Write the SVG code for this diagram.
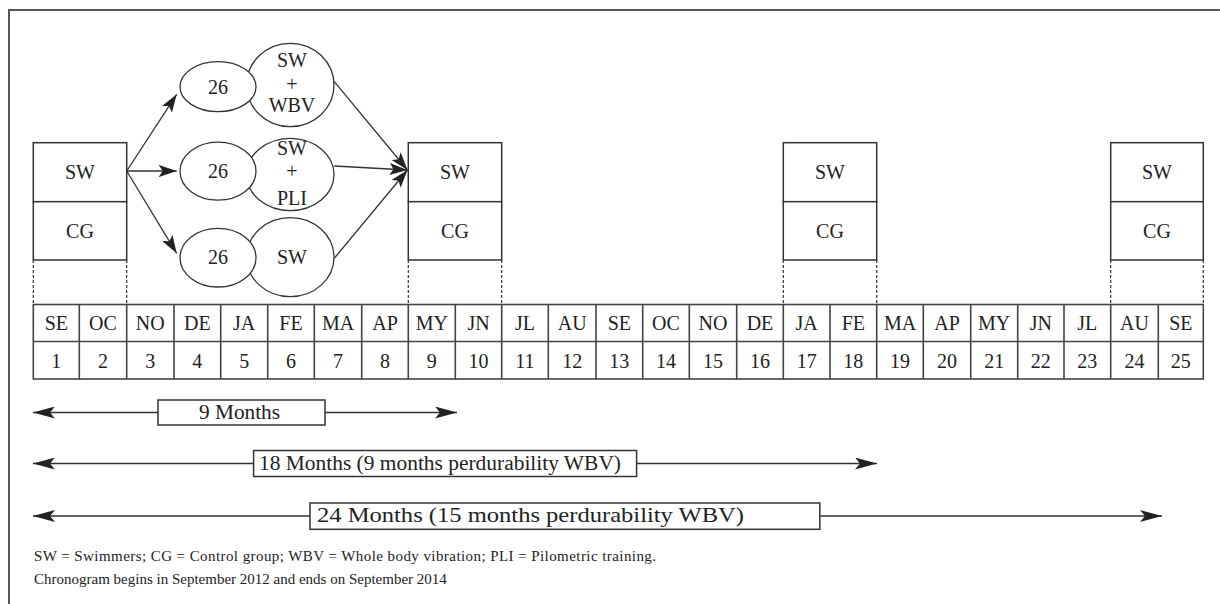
<svg xmlns="http://www.w3.org/2000/svg" width="1220" height="604" viewBox="0 0 1220 604">
<style>
.frame{fill:none;stroke:#555;stroke-width:2}
.box{fill:#fff;stroke:#333;stroke-width:1.5}
.cell{fill:none;stroke:#444;stroke-width:1.6}
.dash{fill:none;stroke:#333;stroke-width:1.2;stroke-dasharray:3 2}
.ell{fill:#fff;stroke:#333;stroke-width:1.3}
.con{fill:none;stroke:#333;stroke-width:1.3}
.t{font-family:"Liberation Serif","Times New Roman",serif;font-size:20px;fill:#222;text-anchor:middle}
.lab{font-family:"Liberation Serif","Times New Roman",serif;font-size:20px;fill:#222}
.leg{font-family:"Liberation Serif","Times New Roman",serif;font-size:15px;fill:#222}
</style>
<defs>
<marker id="ah" markerUnits="userSpaceOnUse" markerWidth="18" markerHeight="12" refX="18" refY="6" orient="auto">
<path d="M0,0 L18,6 L0,12 L4,6 z" fill="#222"/>
</marker>
<marker id="ah2" markerUnits="userSpaceOnUse" markerWidth="22" markerHeight="12" refX="22" refY="6" orient="auto">
<path d="M0,0 L22,6 L0,12 L5,6 z" fill="#222"/>
</marker>
</defs>
<path class="frame" d="M9,604 V10 H1220"/>

<g id="box-1">
<rect class="box" x="33.3" y="142.7" width="93.4" height="59"/>
<rect class="box" x="33.3" y="201.7" width="93.4" height="58.3"/>
<text class="t" x="80" y="178.5">SW</text>
<text class="t" x="80" y="237.5">CG</text>
</g>
<g id="box-2">
<rect class="box" x="408.3" y="142.7" width="93.4" height="59"/>
<rect class="box" x="408.3" y="201.7" width="93.4" height="58.3"/>
<text class="t" x="455" y="178.5">SW</text>
<text class="t" x="455" y="237.5">CG</text>
</g>
<g id="box-3">
<rect class="box" x="783.3" y="142.7" width="93.4" height="59"/>
<rect class="box" x="783.3" y="201.7" width="93.4" height="58.3"/>
<text class="t" x="830" y="178.5">SW</text>
<text class="t" x="830" y="237.5">CG</text>
</g>
<g id="box-4">
<rect class="box" x="1110.7" y="142.7" width="92.6" height="59"/>
<rect class="box" x="1110.7" y="201.7" width="92.6" height="58.3"/>
<text class="t" x="1157" y="178.5">SW</text>
<text class="t" x="1157" y="237.5">CG</text>
</g>

<g id="dashes">
<path class="dash" d="M33.3,260 V304.5 M126.7,260 V304.5 M408.3,260 V304.5 M501.7,260 V304.5 M783.3,260 V304.5 M876.7,260 V304.5 M1110.7,260 V304.5 M1203.3,260 V304.5"/>
</g>

<g id="group-wbv">
<ellipse class="ell" cx="290.3" cy="85" rx="43.7" ry="41.7"/>
<ellipse class="ell" cx="218" cy="86.7" rx="38" ry="25"/>
<text class="t" x="218" y="93.5">26</text>
<text class="t" x="292" y="67">SW</text>
<text class="t" x="292" y="91">+</text>
<text class="t" x="292" y="112">WBV</text>
</g>
<g id="group-pli">
<ellipse class="ell" cx="290.3" cy="174.5" rx="43.7" ry="36.2"/>
<ellipse class="ell" cx="218" cy="171.2" rx="38" ry="29"/>
<text class="t" x="218" y="178">26</text>
<text class="t" x="292" y="155">SW</text>
<text class="t" x="292" y="178">+</text>
<text class="t" x="292" y="205">PLI</text>
</g>
<g id="group-sw">
<ellipse class="ell" cx="290.3" cy="257.2" rx="43.7" ry="39.5"/>
<ellipse class="ell" cx="218" cy="257.7" rx="38" ry="29.3"/>
<text class="t" x="218" y="263.5">26</text>
<text class="t" x="292" y="263.5">SW</text>
</g>

<g id="connectors">
<path class="con" d="M126.7,171 L176.7,94.3" marker-end="url(#ah)"/>
<path class="con" d="M126.7,171 L176.7,171" marker-end="url(#ah)"/>
<path class="con" d="M126.7,171 L176.7,253.3" marker-end="url(#ah)"/>
<path class="con" d="M334.3,81.7 L407.5,170" marker-end="url(#ah)"/>
<path class="con" d="M334.3,166 L407.5,170" marker-end="url(#ah)"/>
<path class="con" d="M334.3,258.3 L407.5,170" marker-end="url(#ah)"/>
<path class="con" d="M158,412.5 H33" marker-end="url(#ah2)"/>
<path class="con" d="M325,412.5 H457" marker-end="url(#ah2)"/>
<path class="con" d="M253.6,463.5 H33" marker-end="url(#ah2)"/>
<path class="con" d="M636.6,463.5 H877" marker-end="url(#ah2)"/>
<path class="con" d="M310,516 H33" marker-end="url(#ah2)"/>
<path class="con" d="M819.8,516 H1162" marker-end="url(#ah2)"/>
</g>

<g id="table">
<rect class="cell" x="33.3" y="304.5" width="1170" height="74.5"/>
<path class="cell" d="M33.3,341.5 H1203.3 M79.3,304.5 V379 M126.7,304.5 V379 M174,304.5 V379 M220.7,304.5 V379 M267.7,304.5 V379 M314.3,304.5 V379 M361.7,304.5 V379 M408.3,304.5 V379 M455.3,304.5 V379 M501.7,304.5 V379 M548.3,304.5 V379 M596,304.5 V379 M642.7,304.5 V379 M689.3,304.5 V379 M736.7,304.5 V379 M783.3,304.5 V379 M830,304.5 V379 M876.7,304.5 V379 M923.3,304.5 V379 M970.7,304.5 V379 M1017.7,304.5 V379 M1064,304.5 V379 M1110.7,304.5 V379 M1158.3,304.5 V379"/>
<g class="t">
<text x="56.3" y="329.5">SE</text><text x="103" y="329.5">OC</text><text x="150.3" y="329.5">NO</text><text x="197.3" y="329.5">DE</text><text x="244.2" y="329.5">JA</text><text x="291" y="329.5">FE</text><text x="338" y="329.5">MA</text><text x="385" y="329.5">AP</text><text x="431.8" y="329.5">MY</text><text x="478.5" y="329.5">JN</text><text x="525" y="329.5">JL</text><text x="572.2" y="329.5">AU</text><text x="619.3" y="329.5">SE</text><text x="666" y="329.5">OC</text><text x="713" y="329.5">NO</text><text x="760" y="329.5">DE</text><text x="806.7" y="329.5">JA</text><text x="853.3" y="329.5">FE</text><text x="900" y="329.5">MA</text><text x="947" y="329.5">AP</text><text x="994.2" y="329.5">MY</text><text x="1040.8" y="329.5">JN</text><text x="1087.3" y="329.5">JL</text><text x="1134.5" y="329.5">AU</text><text x="1180.8" y="329.5">SE</text>
<text x="56.3" y="368">1</text><text x="103" y="368">2</text><text x="150.3" y="368">3</text><text x="197.3" y="368">4</text><text x="244.2" y="368">5</text><text x="291" y="368">6</text><text x="338" y="368">7</text><text x="385" y="368">8</text><text x="431.8" y="368">9</text><text x="478.5" y="368">10</text><text x="525" y="368">11</text><text x="572.2" y="368">12</text><text x="619.3" y="368">13</text><text x="666" y="368">14</text><text x="713" y="368">15</text><text x="760" y="368">16</text><text x="806.7" y="368">17</text><text x="853.3" y="368">18</text><text x="900" y="368">19</text><text x="947" y="368">20</text><text x="994.2" y="368">21</text><text x="1040.8" y="368">22</text><text x="1087.3" y="368">23</text><text x="1134.5" y="368">24</text><text x="1180.8" y="368">25</text>
</g>
</g>

<g id="span-9">
<rect class="box" x="158" y="400" width="167" height="25"/>
<text class="lab" x="199" y="418.5" textLength="81" lengthAdjust="spacingAndGlyphs">9 Months</text>
</g>
<g id="span-18">
<rect class="box" x="253.6" y="450.5" width="383" height="26"/>
<text class="lab" x="259" y="469.5" textLength="362" lengthAdjust="spacingAndGlyphs">18 Months (9 months perdurability WBV)</text>
</g>
<g id="span-24">
<rect class="box" x="310" y="503" width="509.8" height="26.3"/>
<text class="lab" x="317" y="522" style="font-size:21px" textLength="427" lengthAdjust="spacingAndGlyphs">24 Months (15 months perdurability WBV)</text>
</g>

<g id="legend">
<text class="leg" x="34" y="561" textLength="622" lengthAdjust="spacing">SW = Swimmers; CG = Control group; WBV = Whole body vibration; PLI = Pilometric training.</text>
<text class="leg" x="34" y="584">Chronogram begins in September 2012 and ends on September 2014</text>
</g>
</svg>
